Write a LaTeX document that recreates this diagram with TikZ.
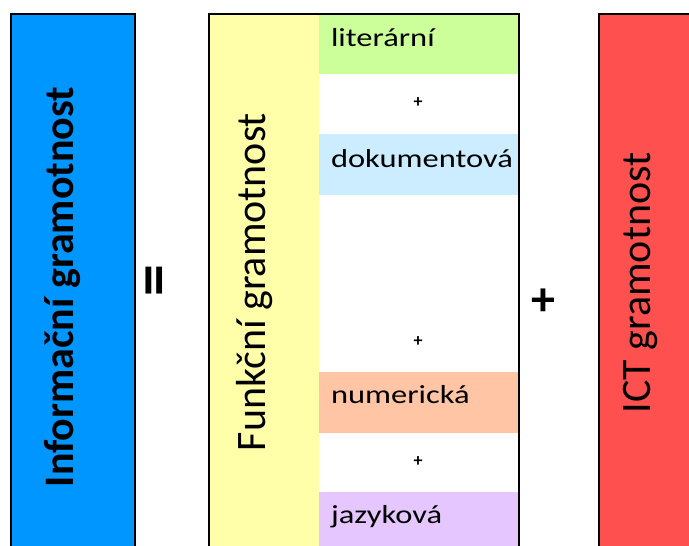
\documentclass[tikz,border=0pt]{standalone}
\usepackage{fontspec}
\setmainfont{Carlito}
\newfontfamily\widefont[FakeStretch=1.25]{Carlito}

\definecolor{infoblue}{RGB}{0,150,255}
\definecolor{funkyellow}{RGB}{255,255,170}
\definecolor{litgreen}{RGB}{204,255,153}
\definecolor{dokblue}{RGB}{204,236,255}
\definecolor{numorange}{RGB}{255,197,165}
\definecolor{jazpurple}{RGB}{230,198,255}
\definecolor{ictred}{RGB}{255,80,80}

\tikzset{
  kindtext/.style={anchor=base west, inner sep=0pt, font=\widefont\fontsize{26}{30}\selectfont},
  sidetext/.style={rotate=90, anchor=base, font=\fontsize{42}{48}\selectfont},
  smallplus/.style={font=\bfseries\fontsize{18}{20}\selectfont},
}

\begin{document}
\begin{tikzpicture}[x=1pt, y=-1pt, line width=2pt]
\useasboundingbox (0,0) rectangle (689,546);
\clip (0,0) rectangle (689,546);

% left block
\draw[fill=infoblue] (11,14) rectangle (135,560);

% middle block
\fill[white] (209,14) rectangle (519,560);
\fill[funkyellow] (209,14) rectangle (319,560);
\fill[litgreen] (319,14) rectangle (518,74);
\fill[dokblue] (319,134) rectangle (518,195);
\fill[numorange] (319,372) rectangle (518,433);
\fill[jazpurple] (319,492) rectangle (518,560);
\draw (209,14) rectangle (519,560);

% right block
\draw[fill=ictred] (599,14) rectangle (700,560);

\node (info) at (73,287) [sidetext, font=\bfseries\fontsize{42}{48}\selectfont] {Informační gramotnost};
\node (funk) at (265,282) [sidetext] {Funkční gramotnost};
\node (ict) at (650,283) [sidetext] {ICT gramotnost};

\node (eq) at (160,281) [rotate=90, font=\bfseries\fontsize{64}{64}\selectfont] {=};
\node (plus) at (543,302) [font=\bfseries\fontsize{48}{48}\selectfont] {+};

\node (lit) at (330,46) [kindtext] {literární};
\node (dok) at (330,167) [kindtext] {dokumentová};
\node (num) at (330,403) [kindtext] {numerická};
\node (jaz) at (330,523) [kindtext] {jazyková};

\node (p1) at (418,103) [smallplus] {+};
\node (p2) at (418,342) [smallplus] {+};
\node (p3) at (418,462) [smallplus] {+};
\end{tikzpicture}
\end{document}
